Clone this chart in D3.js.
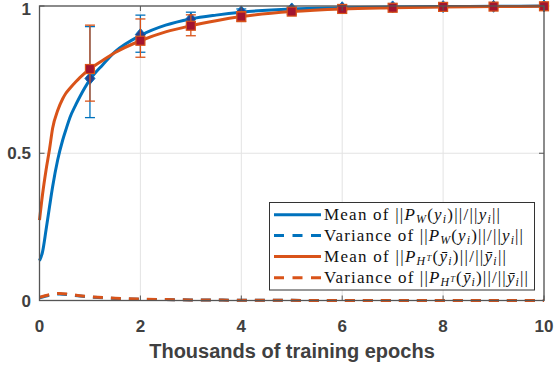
<!DOCTYPE html>
<html><head><meta charset="utf-8">
<script src="https://cdn.jsdelivr.net/npm/d3@7"></script>
<style>
html,body{margin:0;padding:0;background:#fff;}
svg{display:block;}
</style></head>
<body>
<svg id="chart" width="554" height="368"></svg>
<script>
// ---- data ----
const xTicks = [0, 2, 4, 6, 8, 10];
const yTicks = [0, 0.5, 1];
const yTickLabels = ["0", "0.5", "1"];
const xLabel = "Thousands of training epochs";

const curveX = [0, 0.06, 0.13, 0.2, 0.26, 0.36, 0.46, 0.52, 0.6, 0.72, 0.8, 1, 1.25, 1.5, 2, 2.5, 3, 3.5, 4, 5, 6, 7, 8, 9, 10];
const meanW  = [0.135, 0.165, 0.24, 0.32, 0.386, 0.477, 0.545, 0.578, 0.62, 0.665, 0.692, 0.750, 0.80, 0.845, 0.90, 0.935, 0.956, 0.969, 0.979, 0.99, 0.994, 0.997, 0.998, 0.999, 1.0];
const meanH  = [0.273, 0.36, 0.443, 0.515, 0.585, 0.645, 0.685, 0.703, 0.72, 0.743, 0.757, 0.786, 0.815, 0.842, 0.882, 0.912, 0.933, 0.95, 0.964, 0.981, 0.99, 0.994, 0.997, 0.998, 0.999];

const varX = [0, 0.2, 0.4, 0.6, 0.8, 1, 1.5, 2, 2.5, 3, 4, 5, 6, 7, 8, 9, 10];
const varW = [0.009, 0.018, 0.022, 0.019, 0.015, 0.012, 0.007, 0.004, 0.003, 0.002, 0.001, 0.0005, 0, 0, 0, 0, 0];
const varH = [0.011, 0.02, 0.024, 0.021, 0.016, 0.013, 0.008, 0.005, 0.003, 0.002, 0.001, 0.0005, 0, 0, 0, 0, 0];

const markX = [1, 2, 3, 4, 5, 6, 7, 8, 9, 10];
const markW = [0.754, 0.903, 0.956, 0.980, 0.990, 0.994, 0.997, 0.998, 0.999, 1.0];
const lowW  = [0.621, 0.843, 0.935, 0.970, 0.985, 0.990, 0.994, 0.996, 0.997, 0.998];
const highW = [0.930, 0.969, 0.979, 0.990, 0.995, 0.998, 0.999, 1.0, 1.0, 1.0];
const markH = [0.786, 0.882, 0.933, 0.964, 0.981, 0.990, 0.994, 0.997, 0.998, 0.999];
const lowH  = [0.677, 0.826, 0.899, 0.947, 0.972, 0.985, 0.990, 0.993, 0.995, 0.997];
const highH = [0.935, 0.956, 0.970, 0.981, 0.990, 0.995, 0.998, 1.0, 1.0, 1.0];

const legendNames = ["meanW", "varW", "meanH", "varH"];

// ---- drawing ----
const blue = "#0072BD", orange = "#D95319";
const svg = d3.select("#chart");
const x = d3.scaleLinear().domain([0, 10]).range([39.5, 544]);
const y = d3.scaleLinear().domain([0, 1]).range([300.5, 6]);
const axisCol = "#555", textCol = "#404040";

// grid
const grid = svg.append("g");
grid.selectAll("line.gx").data(xTicks).join("line")
  .attr("x1", d => x(d)).attr("x2", d => x(d)).attr("y1", y(0)).attr("y2", y(1))
  .attr("stroke", "#e3e3e3").attr("stroke-width", 1);
grid.selectAll("line.gy").data(yTicks).join("line")
  .attr("y1", d => y(d)).attr("y2", d => y(d)).attr("x1", x(0)).attr("x2", x(10))
  .attr("stroke", "#e3e3e3").attr("stroke-width", 1);

const lineGen = (xs, ys) => d3.line().curve(d3.curveMonotoneX)
  .x((d, i) => x(xs[i])).y((d, i) => y(ys[i]))(ys);

// variance lines
svg.append("path").attr("d", lineGen(varX, varW)).attr("fill", "none")
  .attr("stroke", blue).attr("stroke-width", 3).attr("stroke-dasharray", "10,8");
svg.append("path").attr("d", lineGen(varX, varH)).attr("fill", "none")
  .attr("stroke", orange).attr("stroke-width", 3).attr("stroke-dasharray", "10,8");

function errorSeries(color, xs, ms, lo, hi, mean, markerType) {
  svg.append("path").attr("d", lineGen(curveX, mean)).attr("fill", "none")
    .attr("stroke", color).attr("stroke-width", 3).attr("stroke-linejoin", "round");
  const g = svg.append("g");
  xs.forEach((xv, i) => {
    const cx = x(xv);
    g.append("line").attr("x1", cx).attr("x2", cx).attr("y1", y(lo[i])).attr("y2", y(hi[i]))
      .attr("stroke", color).attr("stroke-width", 1.3);
    [lo[i], hi[i]].forEach(v => {
      g.append("line").attr("x1", cx - 5).attr("x2", cx + 5).attr("y1", y(v)).attr("y2", y(v))
        .attr("stroke", color).attr("stroke-width", 1.3);
    });
    const cy = y(ms[i]);
    if (markerType === "diamond") {
      g.append("path").attr("d", `M${cx},${cy - 6}L${cx + 5},${cy}L${cx},${cy + 6}L${cx - 5},${cy}Z`)
        .attr("fill", "#27408f").attr("stroke", blue).attr("stroke-width", 1);
    } else {
      g.append("rect").attr("x", cx - 4.5).attr("y", cy - 4.5).attr("width", 9).attr("height", 9)
        .attr("fill", "#A2142F").attr("stroke", orange).attr("stroke-width", 1.2);
    }
  });
}
errorSeries(blue, markX, markW, lowW, highW, meanW, "diamond");
errorSeries(orange, markX, markH, lowH, highH, meanH, "square");

// axes box
const box = svg.append("g");
box.append("rect").attr("x", x(0)).attr("y", y(1)).attr("width", x(10) - x(0)).attr("height", y(0) - y(1))
  .attr("fill", "none").attr("stroke", axisCol).attr("stroke-width", 1.3);
xTicks.forEach(t => {
  box.append("line").attr("x1", x(t)).attr("x2", x(t)).attr("y1", y(0)).attr("y2", y(0) - 5).attr("stroke", axisCol);
  box.append("line").attr("x1", x(t)).attr("x2", x(t)).attr("y1", y(1)).attr("y2", y(1) + 5).attr("stroke", axisCol);
});
yTicks.forEach(t => {
  box.append("line").attr("x1", x(0)).attr("x2", x(0) + 5).attr("y1", y(t)).attr("y2", y(t)).attr("stroke", axisCol);
  box.append("line").attr("x1", x(10)).attr("x2", x(10) - 5).attr("y1", y(t)).attr("y2", y(t)).attr("stroke", axisCol);
});

// tick labels
const tickFont = "'Liberation Sans', Arial, sans-serif";
svg.append("g").selectAll("text").data(xTicks).join("text")
  .attr("x", d => x(d)).attr("y", 332).attr("text-anchor", "middle")
  .attr("font-family", tickFont).attr("font-weight", "bold").attr("font-size", 17)
  .attr("fill", textCol).text(d => d);
svg.append("g").selectAll("text").data(yTicks).join("text")
  .attr("x", 31).attr("y", d => Math.max(y(d) + 6, 14.5)).attr("text-anchor", "end")
  .attr("font-family", tickFont).attr("font-weight", "bold").attr("font-size", 17)
  .attr("fill", textCol).text((d, i) => yTickLabels[i]);
svg.append("text").attr("x", 292).attr("y", 358).attr("text-anchor", "middle")
  .attr("font-family", tickFont).attr("font-weight", "bold").attr("font-size", 20)
  .attr("fill", textCol).text(xLabel);

// legend
const lg = svg.append("g");
lg.append("rect").attr("x", 269.5).attr("y", 202.5).attr("width", 265).attr("height", 87.5)
  .attr("fill", "#fff").attr("stroke", "#333").attr("stroke-width", 1);
const rowsY = [214.7, 235.5, 256.5, 277.7];
const rowWidths = [176, 199, 182, 204];
const rowStyle = [[blue, null], [blue, "10,8.5"], [orange, null], [orange, "10,8.5"]];
rowStyle.forEach((s, i) => {
  lg.append("line").attr("x1", 274).attr("x2", 321).attr("y1", rowsY[i]).attr("y2", rowsY[i])
    .attr("stroke", s[0]).attr("stroke-width", 3).attr("stroke-dasharray", s[1]);
});
const N = 0, IT = 1, SUB = 2, SUBSUP = 3;
function pieces(prefix, isH) {
  const yv = isH ? "\u0233" : "y";
  const p = [[prefix + " of ||", N], ["P", IT]];
  if (isH) { p.push(["H", SUB]); p.push(["T", SUBSUP]); } else { p.push(["W", SUB]); }
  p.push(["(", N], [yv, IT], ["i", SUB], [")||/||", N], [yv, IT], ["i", SUB], ["||", N]);
  return p;
}
const legendTexts = [pieces("Mean", false), pieces("Variance", false), pieces("Mean", true), pieces("Variance", true)];
const fs = 17;
legendTexts.forEach((parts, i) => {
  const t = lg.append("text").attr("x", 324).attr("y", rowsY[i] + 5.5)
    .attr("font-family", "'Liberation Serif', 'Times New Roman', serif").attr("font-size", fs).attr("fill", "#111")
    .attr("textLength", rowWidths[i]).attr("lengthAdjust", "spacing")
    .attr("data-name", legendNames[i]);
  let level = 0; // 0 base, 1 sub, 2 subsup
  parts.forEach(([str, kind]) => {
    const target = kind === SUB ? 1 : kind === SUBSUP ? 2 : 0;
    const off = [0, 3, -1];
    const dy = off[target] - off[level];
    level = target;
    const ts = t.append("tspan").attr("dy", dy).text(str);
    if (kind === IT || kind === SUB || kind === SUBSUP) ts.attr("font-style", "italic");
    if (kind === SUB) ts.attr("font-size", fs * 0.7);
    if (kind === SUBSUP) ts.attr("font-size", fs * 0.5);
  });
});
</script>
</body></html>
